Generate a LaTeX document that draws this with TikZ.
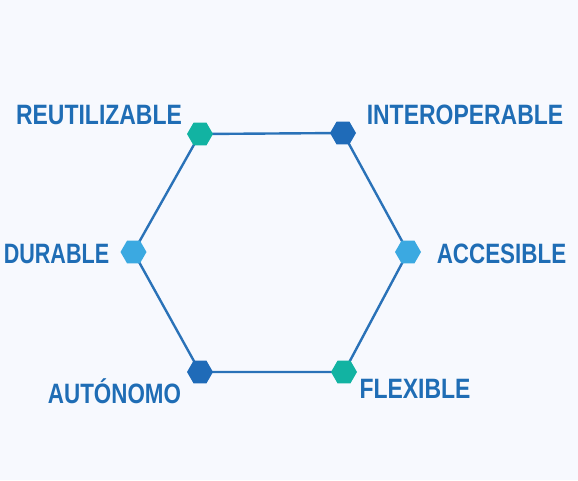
\documentclass[tikz,border=0pt]{standalone}
\usepackage{fontspec}
\setmainfont{Liberation Sans}
\usetikzlibrary{shapes.geometric}
\definecolor{bgc}{HTML}{F7F9FE}
\definecolor{txtc}{HTML}{1F6DB5}
\definecolor{linec}{HTML}{2A72B8}
\definecolor{tealc}{HTML}{12B3A2}
\definecolor{darkc}{HTML}{1F6BB8}
\definecolor{lightc}{HTML}{3BA9E1}
\newcommand{\lbltext}[2][0.82]{\scalebox{#1}[1]{\fontsize{28}{28}\selectfont\bfseries #2}}
\begin{document}
\begin{tikzpicture}[x=1pt,y=-1pt,
  marker/.style={regular polygon,regular polygon sides=6,shape border rotate=0,
    minimum size=26pt,inner sep=0pt,draw=none,fill=#1},
  lbl/.style={inner sep=0pt,text=txtc,anchor=base},
  edge/.style={draw=linec,line width=2.4pt}]
\fill[bgc] (0,0) rectangle (578,480);
\useasboundingbox (0,0) rectangle (578,480);
\coordinate (v1) at (200,134);
\coordinate (v2) at (343,133);
\coordinate (v3) at (408,252);
\coordinate (v4) at (344,372);
\coordinate (v5) at (200,372);
\coordinate (v6) at (133.5,252);
\draw[edge] (v1) -- (v2) -- (v3) -- (v4) -- (v5) -- (v6) -- cycle;
\node[marker=tealc] (m1) at (v1) {};
\node[marker=darkc] (m2) at (v2) {};
\node[marker=lightc] (m3) at (v3) {};
\node[marker=tealc] (m4) at (v4) {};
\node[marker=darkc] (m5) at (v5) {};
\node[marker=lightc] (m6) at (v6) {};
\node[lbl] (t1) at (99,124) {\lbltext{REUTILIZABLE}};
\node[lbl] (t2) at (465,124) {\lbltext{INTEROPERABLE}};
\node[lbl] (t3) at (56.5,263) {\lbltext[0.77]{DURABLE}};
\node[lbl] (t4) at (501.5,263) {\lbltext[0.8]{ACCESIBLE}};
\node[lbl] (t5) at (114.5,403) {\lbltext[0.8]{AUTÓNOMO}};
\node[lbl] (t6) at (415,398) {\lbltext{FLEXIBLE}};
\end{tikzpicture}
\end{document}
